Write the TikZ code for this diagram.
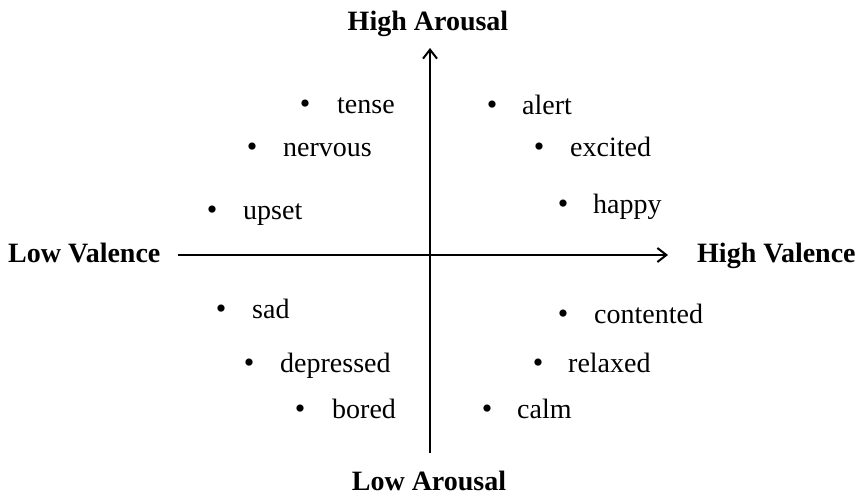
\documentclass[tikz,border=0pt]{standalone}
\usepackage{fontspec}
\setmainfont{Liberation Serif}
\usetikzlibrary{arrows.meta}
\tikzset{
  axis/.style={line width=2pt, -{Straight Barb[length=9pt,width=14pt,line width=2pt]}},
  word/.style={anchor=base west, inner sep=0pt, font=\fontsize{28}{33}\selectfont},
  dot/.style={anchor=base, inner sep=0pt, font=\fontsize{30}{33}\selectfont},
  pole/.style={inner sep=0pt, font=\fontsize{28}{33}\selectfont\bfseries}
}
\begin{document}
\begin{tikzpicture}[x=1pt,y=-1pt]
\useasboundingbox (0,0) rectangle (856,496);
% axes
\coordinate (hs) at (178,255);
\coordinate (he) at (668,255);
\coordinate (vs) at (430,453);
\coordinate (ve) at (430,48);
\draw[axis] (hs) -- (he);
\draw[axis] (vs) -- (ve);
% pole labels
\node[pole, anchor=base] (ha) at (428,30) {High Arousal};
\node[pole, anchor=base] (la) at (429,490) {Low Arousal};
\node[pole, anchor=base west] (lv) at (8,262) {Low Valence};
\node[pole, anchor=base west] (hv) at (697,262) {High Valence};
% upper left
\node[dot] (b1) at (305,113) {•}; \node[word] (w1) at (337,113) {tense};
\node[dot] (b2) at (252,156) {•}; \node[word] (w2) at (283,156) {nervous};
\node[dot] (b3) at (212,219) {•}; \node[word] (w3) at (243,219) {upset};
% upper right
\node[dot] (b4) at (492,114) {•}; \node[word] (w4) at (522,114) {alert};
\node[dot] (b5) at (539,156) {•}; \node[word] (w5) at (570,156) {excited};
\node[dot] (b6) at (563,213) {•}; \node[word] (w6) at (593,213) {happy};
% lower left
\node[dot] (b7) at (221,318) {•}; \node[word] (w7) at (252,318) {sad};
\node[dot] (b8) at (249,372) {•}; \node[word] (w8) at (280,372) {depressed};
\node[dot] (b9) at (300,418) {•}; \node[word] (w9) at (332,418) {bored};
% lower right
\node[dot] (b10) at (563,323) {•}; \node[word] (w10) at (594,323) {contented};
\node[dot] (b11) at (538,372) {•}; \node[word] (w11) at (568,372) {relaxed};
\node[dot] (b12) at (487,418) {•}; \node[word] (w12) at (517,418) {calm};
\end{tikzpicture}
\end{document}
